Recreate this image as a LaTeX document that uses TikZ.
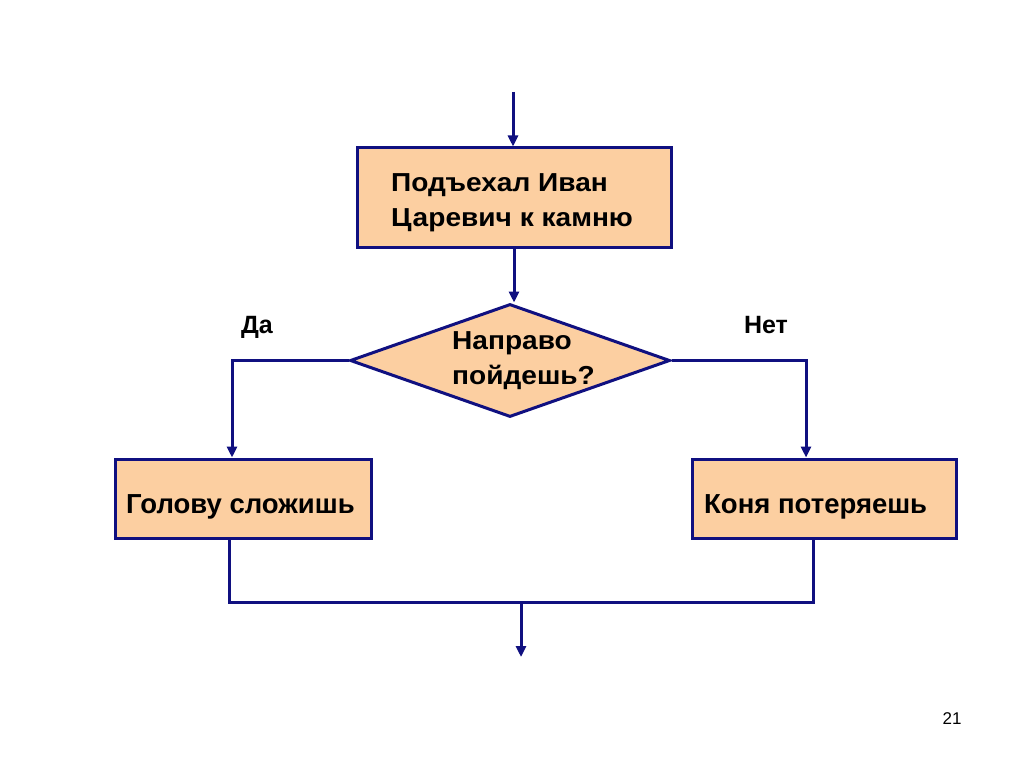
\documentclass[tikz,border=0pt]{standalone}
\usepackage{fontspec}
\setmainfont{Liberation Sans}
\newfontfamily\boxfont{Liberation Sans}[FakeStretch=1.08]
\usetikzlibrary{shapes.geometric,arrows.meta}
\definecolor{navy}{RGB}{16,16,128}
\definecolor{peach}{RGB}{252,207,161}
\tikzset{
  box/.style={draw=navy,fill=peach,line width=3pt,inner sep=0pt},
  dia/.style={diamond,draw=navy,fill=peach,line width=3pt,inner sep=0pt,aspect=2.83,
    minimum width=320pt,minimum height=113pt},
  wtext/.style={inner sep=0pt,align=left,font=\boxfont\fontsize{26}{35}\selectfont\bfseries},
  btext/.style={inner sep=0pt,anchor=base west,font=\fontsize{27.5}{30}\selectfont\bfseries},
  conn/.style={draw=navy,line width=3pt},
  arr/.style={conn,-{Triangle[length=11pt,width=10pt]}},
  lbl/.style={inner sep=0pt,anchor=base,font=\fontsize{25}{30}\selectfont\bfseries}
}
\begin{document}
\begin{tikzpicture}[x=1pt,y=-1pt]
\useasboundingbox (0,0) rectangle (1024,767);
\fill[white] (0,0) rectangle (1024,767);
\coordinate (s) at (513,92);
\node[box,minimum width=314pt,minimum height=99pt] (top) at (514,197.5) {};
\node[wtext,anchor=west] (toptext) at (391,203.2) {Подъехал Иван\\Царевич к камню};
\node[dia] (d) at (510,360.5) {};
\node[wtext,anchor=west] (dtext) at (452,361) {Направо\\пойдешь?};
\node[box,minimum width=256pt,minimum height=79pt] (lb) at (243,498.5) {};
\node[btext] (lbtext) at (126,513) {Голову сложишь};
\node[box,minimum width=264pt,minimum height=79pt] (rb) at (824,498.5) {};
\node[btext] (rbtext) at (704,513) {Коня потеряешь};
\node[lbl] (da) at (257,333) {Да};
\node[lbl] (net) at (766,333) {Нет};
\coordinate (j) at (521,602);
\coordinate (e) at (521,657);
\coordinate (jl) at (229,602);
\coordinate (jr) at (813,602);
\draw[arr] (s) -- (top.north -| s);
\draw[arr] (top.south) -- (top.south |- d.north);
\draw[arr] (d.west) -| ([xshift=-11pt]lb.north);
\draw[arr] (d.east) -| ([xshift=-18pt]rb.north);
\draw[conn] ([xshift=-14pt]lb.south) -- (jl) -- (jr) -- ([xshift=-11pt]rb.south);
\draw[arr] (j) -- (e);
\node[inner sep=0pt,anchor=base,font=\fontsize{17}{20}\selectfont] (pg) at (952,724) {21};
\end{tikzpicture}
\end{document}
